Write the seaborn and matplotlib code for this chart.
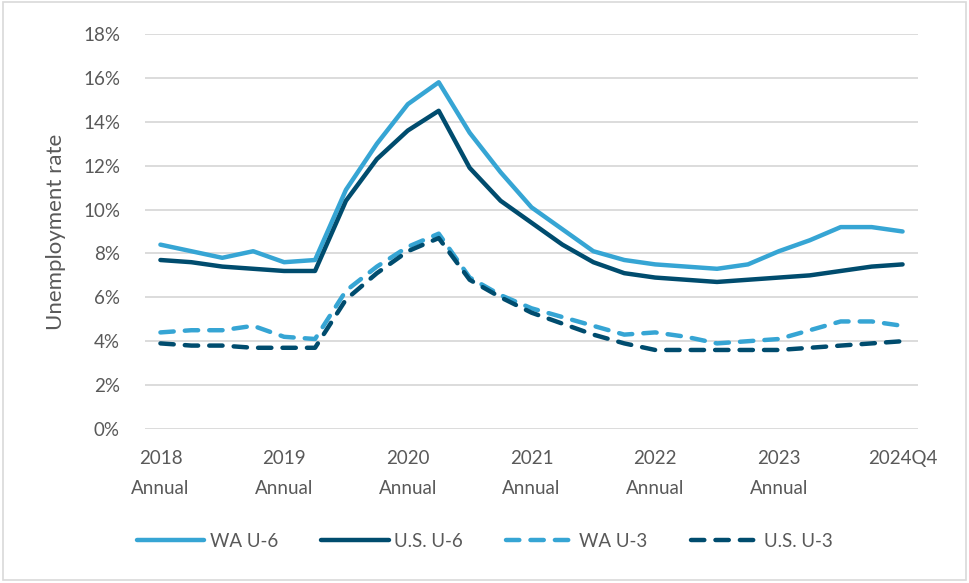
import pandas as pd
import seaborn as sns
import matplotlib.pyplot as plt
from matplotlib.patches import Rectangle
from matplotlib.ticker import FuncFormatter

# x positions: 25 periods, labels shown every 4th one
period_idx = list(range(25))
tick_pos = [0, 4, 8, 12, 16, 20, 24]
tick_labels = ["2018\nAnnual", "2019\nAnnual", "2020\nAnnual", "2021\nAnnual",
               "2022\nAnnual", "2023\nAnnual", "2024Q4"]

wa_u6 = [8.4, 8.1, 7.8, 8.1, 7.6, 7.7, 10.9, 13.0, 14.8, 15.8, 13.5, 11.7, 10.1,
         9.1, 8.1, 7.7, 7.5, 7.4, 7.3, 7.5, 8.1, 8.6, 9.2, 9.2, 9.0]
us_u6 = [7.7, 7.6, 7.4, 7.3, 7.2, 7.2, 10.4, 12.3, 13.6, 14.5, 11.9, 10.4, 9.4,
         8.4, 7.6, 7.1, 6.9, 6.8, 6.7, 6.8, 6.9, 7.0, 7.2, 7.4, 7.5]
wa_u3 = [4.4, 4.5, 4.5, 4.7, 4.2, 4.1, 6.3, 7.4, 8.3, 8.9, 6.9, 6.1, 5.5,
         5.1, 4.7, 4.3, 4.4, 4.2, 3.9, 4.0, 4.1, 4.5, 4.9, 4.9, 4.7]
us_u3 = [3.9, 3.8, 3.8, 3.7, 3.7, 3.7, 5.9, 7.1, 8.1, 8.7, 6.8, 6.0, 5.3,
         4.8, 4.3, 3.9, 3.6, 3.6, 3.6, 3.6, 3.6, 3.7, 3.8, 3.9, 4.0]

light = "#36A5D4"
dark = "#004C6E"
grey_txt = "#595959"

sns.set_style("white")
plt.rcParams["font.family"] = ["Lato", "DejaVu Sans"]

fig = plt.figure(figsize=(9.69, 5.83), dpi=100)
ax = fig.add_axes([0.1496, 0.2642, 0.7978, 0.6775])

series = [
    ("WA U-6", wa_u6, light, "-"),
    ("U.S. U-6", us_u6, dark, "-"),
    ("WA U-3", wa_u3, light, (0, (3.0, 2.5))),
    ("U.S. U-3", us_u3, dark, (0, (3.0, 2.5))),
]
for name, vals, col, ls in series:
    df = pd.DataFrame({"x": period_idx, "rate": vals})
    sns.lineplot(data=df, x="x", y="rate", ax=ax, color=col, linestyle=ls,
                 linewidth=3.2, label=name, solid_capstyle="round",
                 dash_capstyle="round", solid_joinstyle="round")

ax.set_xlim(-0.5, 24.5)
ax.set_ylim(0, 18)
ax.set_yticks(range(0, 19, 2))
ax.yaxis.set_major_formatter(FuncFormatter(lambda v, p: f"{v:.0f}%"))
ax.set_xticks(tick_pos)
ax.set_xticklabels(tick_labels, linespacing=1.95)
ax.grid(axis="y", color="#D9D9D9", linewidth=1.3)
ax.set_axisbelow(True)
for s in ax.spines.values():
    s.set_visible(False)
ax.tick_params(axis="both", length=0, labelsize=13.5, labelcolor=grey_txt)
ax.tick_params(axis="y", pad=18)
ax.tick_params(axis="x", pad=15)
ax.set_xlabel("")
ax.set_ylabel("Unemployment rate", fontsize=16, color=grey_txt, labelpad=12)

handles, labels = ax.get_legend_handles_labels()
ax.legend_.remove()
fig.legend(handles, labels, loc="center", bbox_to_anchor=(0.5, 0.072), ncol=4,
           frameon=False, fontsize=13.5, labelcolor=grey_txt, handlelength=3.6,
           handletextpad=0.3, columnspacing=2.3)

fig.patches.append(Rectangle((0.003, 0.006), 0.994, 0.99, transform=fig.transFigure,
                             fill=False, edgecolor="#D9D9D9", linewidth=1.2))

fig.savefig("out.png", dpi=100)
